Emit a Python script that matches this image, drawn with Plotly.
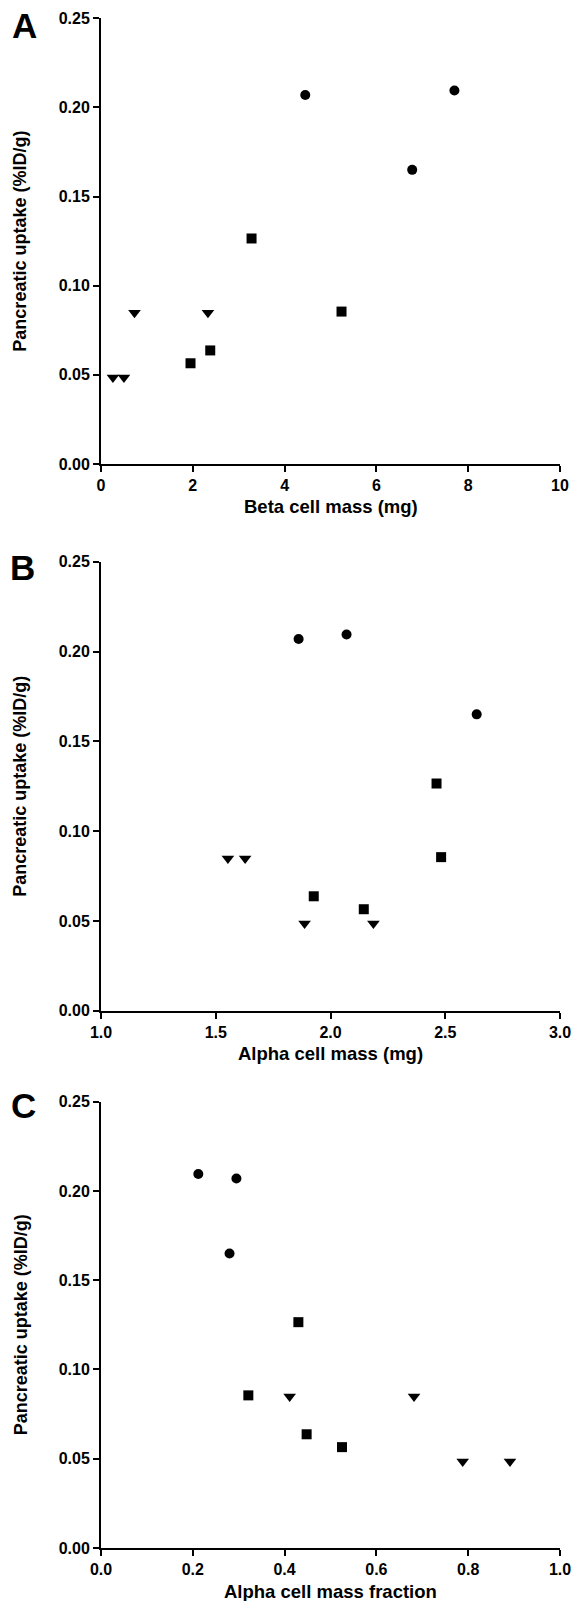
import plotly.graph_objects as go

# ---------------- data ----------------
circle_uptake = [0.207, 0.2095, 0.165]
square_uptake = [0.1265, 0.0855, 0.0637, 0.0565]
triangle_uptake = [0.0848, 0.0848, 0.0485, 0.0485]

beta_mass_circle = [4.45, 7.70, 6.78]
beta_mass_square = [3.28, 5.24, 2.38, 1.95]
beta_mass_triangle = [0.73, 2.33, 0.26, 0.50]

alpha_mass_circle = [1.861, 2.070, 2.637]
alpha_mass_square = [2.462, 2.482, 1.927, 2.145]
alpha_mass_triangle = [1.553, 1.628, 1.887, 2.187]

alpha_frac_circle = [0.295, 0.212, 0.280]
alpha_frac_square = [0.430, 0.321, 0.448, 0.525]
alpha_frac_triangle = [0.411, 0.682, 0.788, 0.891]

panel_letters = ["A", "B", "C"]
x_titles = ["Beta cell mass (mg)", "Alpha cell mass (mg)", "Alpha cell mass fraction"]
y_title = "Pancreatic uptake (%ID/g)"
x_ranges = [[0, 10], [1.0, 3.0], [0.0, 1.0]]
x_dticks = [2, 0.5, 0.2]
x_formats = ["d", ".1f", ".1f"]

# ---------------- layout geometry (pixels) ----------------
W, H = 573, 1601
x_left, x_right = 101, 560
frames = [(18.3, 464.0), (561.7, 1010.7), (1101.7, 1548.0)]  # (top, bottom)
letter_pos = [(24.5, 25.7), (22.5, 567.5), (23.5, 1105.0)]

def px(x):
    return x / W

def py(y):
    return 1 - y / H

fig = go.Figure()

x_sets = [
    (beta_mass_circle, beta_mass_square, beta_mass_triangle),
    (alpha_mass_circle, alpha_mass_square, alpha_mass_triangle),
    (alpha_frac_circle, alpha_frac_square, alpha_frac_triangle),
]

font_family = "Liberation Sans, Arial, sans-serif"

for i, (xc, xs, xt) in enumerate(x_sets):
    xa = "x" if i == 0 else f"x{i+1}"
    ya = "y" if i == 0 else f"y{i+1}"
    fig.add_trace(go.Scatter(x=xc, y=circle_uptake, mode="markers", xaxis=xa, yaxis=ya,
                             marker=dict(symbol="circle", size=10, color="black"),
                             showlegend=False, cliponaxis=False))
    fig.add_trace(go.Scatter(x=xs, y=square_uptake, mode="markers", xaxis=xa, yaxis=ya,
                             marker=dict(symbol="square", size=10, color="black"),
                             showlegend=False, cliponaxis=False))
    fig.add_trace(go.Scatter(x=xt, y=triangle_uptake, mode="markers", xaxis=xa, yaxis=ya,
                             marker=dict(symbol="triangle-down", size=11, color="black"),
                             showlegend=False, cliponaxis=False))

    top, bottom = frames[i]
    xkey = "xaxis" if i == 0 else f"xaxis{i+1}"
    ykey = "yaxis" if i == 0 else f"yaxis{i+1}"
    fig.update_layout(**{
        xkey: dict(domain=[px(x_left), px(x_right)], range=x_ranges[i], anchor=ya,
                   automargin=False,
                   showline=True, linecolor="black", linewidth=2, mirror=False,
                   ticks="outside", ticklen=6, tickwidth=2, tickcolor="black",
                   dtick=x_dticks[i], tick0=x_ranges[i][0], tickformat=x_formats[i],
                   showgrid=False, zeroline=False,
                   tickfont=dict(family=font_family, size=16, color="black", weight="bold")),
        ykey: dict(domain=[py(bottom), py(top)], range=[0, 0.25], anchor=xa,
                   automargin=False,
                   showline=True, linecolor="black", linewidth=2,
                   ticks="outside", ticklen=6, tickwidth=2, tickcolor="black",
                   dtick=0.05, tick0=0, tickformat=".2f",
                   showgrid=False, zeroline=False,
                   tickfont=dict(family=font_family, size=16, color="black", weight="bold")),
    })

    # axis titles
    fig.add_annotation(x=px((x_left + x_right) / 2), y=py(bottom + 43), xref="paper", yref="paper",
                       text=x_titles[i], showarrow=False, xanchor="center", yanchor="middle",
                       font=dict(family=font_family, size=18.5, color="black", weight="bold"))
    fig.add_annotation(x=px(20.5), y=py((top + bottom) / 2), xref="paper", yref="paper",
                       text=y_title, showarrow=False, textangle=-90, xanchor="center", yanchor="middle",
                       font=dict(family=font_family, size=18, color="black", weight="bold"))
    # panel letter
    lx, ly = letter_pos[i]
    fig.add_annotation(x=px(lx), y=py(ly), xref="paper", yref="paper",
                       text=panel_letters[i], showarrow=False, xanchor="center", yanchor="middle",
                       font=dict(family=font_family, size=35, color="black", weight="bold"))

fig.update_layout(template="none", width=W, height=H, margin=dict(l=0, r=0, t=0, b=0),
                  paper_bgcolor="white", plot_bgcolor="white", showlegend=False)

fig.write_html("out.html", config={"displayModeBar": False},
               post_script="document.body.style.margin='0';document.body.style.overflow='hidden';")
